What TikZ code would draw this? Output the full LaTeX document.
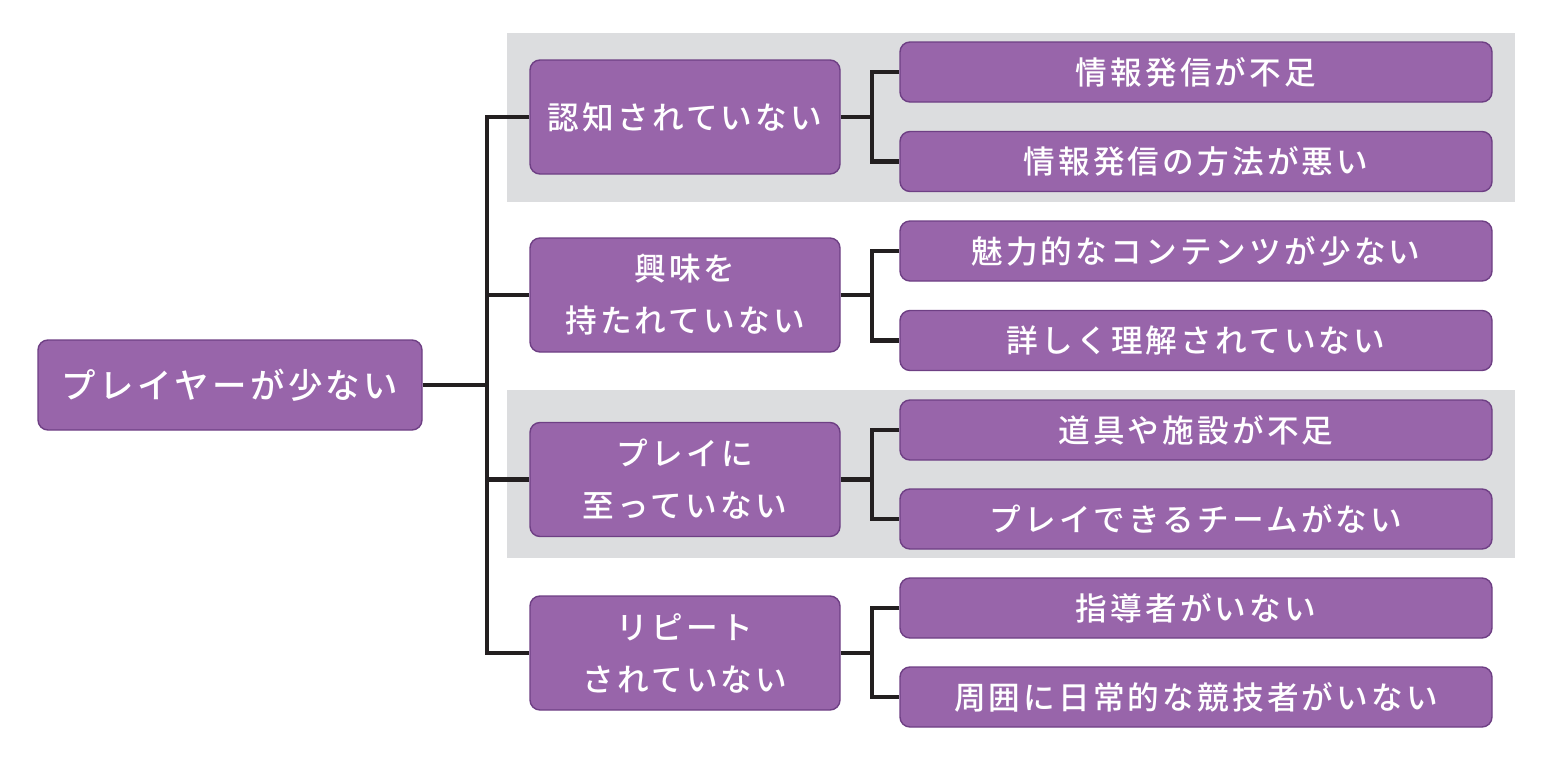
\documentclass[tikz,border=0pt]{standalone}
\usepackage{fontspec}
\newfontfamily\jpfont{Noto Sans CJK JP}[LetterSpace=10, BoldFont=* Medium]
\definecolor{boxPurple}{HTML}{9865AA}
\definecolor{boxEdge}{HTML}{6E3F84}
\definecolor{bandGray}{HTML}{DCDDDF}
\definecolor{lineBlack}{HTML}{231F20}
\begin{document}
\begin{tikzpicture}[rootStyle/.style={rectangle, rounded corners=0.1cm, draw=boxEdge, fill=boxPurple, text=white, minimum width=3.84cm, minimum height=0.9cm, font=\jpfont\bfseries\fontsize{9.8}{14.8}\selectfont}, catStyle/.style={rectangle, rounded corners=0.1cm, draw=boxEdge, fill=boxPurple, text=white, align=center, minimum width=3.1cm, minimum height=1.14cm, font=\jpfont\bfseries\fontsize{9}{14.8}\selectfont}, causeStyle/.style={rectangle, rounded corners=0.1cm, draw=boxEdge, fill=boxPurple, text=white, minimum width=5.92cm, minimum height=0.6cm, font=\jpfont\bfseries\fontsize{9}{14.8}\selectfont}, lineStyle/.style={draw=lineBlack, line width=1.15pt}]
                    \useasboundingbox (0, 0) rectangle (15.66, -7.76);
                    \fill[bandGray] (5.07, -0.33) rectangle (15.15, -2.02);
                    \fill[bandGray] (5.07, -3.90) rectangle (15.15, -5.58);

                    \node[rootStyle](root) at (2.30, -3.85) {プレイヤーが少ない};

                    \node[catStyle](cat_0) at (6.85, -1.17) {認知されていない};
                    \node[catStyle](cat_1) at (6.85, -2.95) {興味を\\持たれていない};
                    \node[catStyle](cat_2) at (6.85, -4.795) {プレイに\\至っていない};
                    \node[catStyle](cat_3) at (6.85, -6.53) {リピート\\されていない};

                    \node[causeStyle](cause_0_0) at (11.96, -0.72) {情報発信が不足};
                    \node[causeStyle](cause_0_1) at (11.96, -1.615) {情報発信の方法が悪い};
                    \node[causeStyle](cause_1_0) at (11.96, -2.51) {魅力的なコンテンツが少ない};
                    \node[causeStyle](cause_1_1) at (11.96, -3.405) {詳しく理解されていない};
                    \node[causeStyle](cause_2_0) at (11.96, -4.30) {道具や施設が不足};
                    \node[causeStyle](cause_2_1) at (11.96, -5.19) {プレイできるチームがない};
                    \node[causeStyle](cause_3_0) at (11.96, -6.08) {指導者がいない};
                    \node[causeStyle](cause_3_1) at (11.96, -6.97) {周囲に日常的な競技者がいない};

                    \draw[lineStyle] (root.east) -- ++(0.66, 0);
                    \draw[lineStyle] (cat_0.west) -- ++(-0.42, 0) |- (cat_3.west);
                    \draw[lineStyle] (cat_1.west) -- ++(-0.42, 0);
                    \draw[lineStyle] (cat_2.west) -- ++(-0.42, 0);

                    \draw[lineStyle] (cat_0.east) -- ++(0.33, 0);
                    \draw[lineStyle] (cause_0_0.west) -- ++(-0.27, 0) |- (cause_0_1.west);
                    \draw[lineStyle] (cat_1.east) -- ++(0.33, 0);
                    \draw[lineStyle] (cause_1_0.west) -- ++(-0.27, 0) |- (cause_1_1.west);
                    \draw[lineStyle] (cat_2.east) -- ++(0.33, 0);
                    \draw[lineStyle] (cause_2_0.west) -- ++(-0.27, 0) |- (cause_2_1.west);
                    \draw[lineStyle] (cat_3.east) -- ++(0.33, 0);
                    \draw[lineStyle] (cause_3_0.west) -- ++(-0.27, 0) |- (cause_3_1.west);
                \end{tikzpicture}
\end{document}
